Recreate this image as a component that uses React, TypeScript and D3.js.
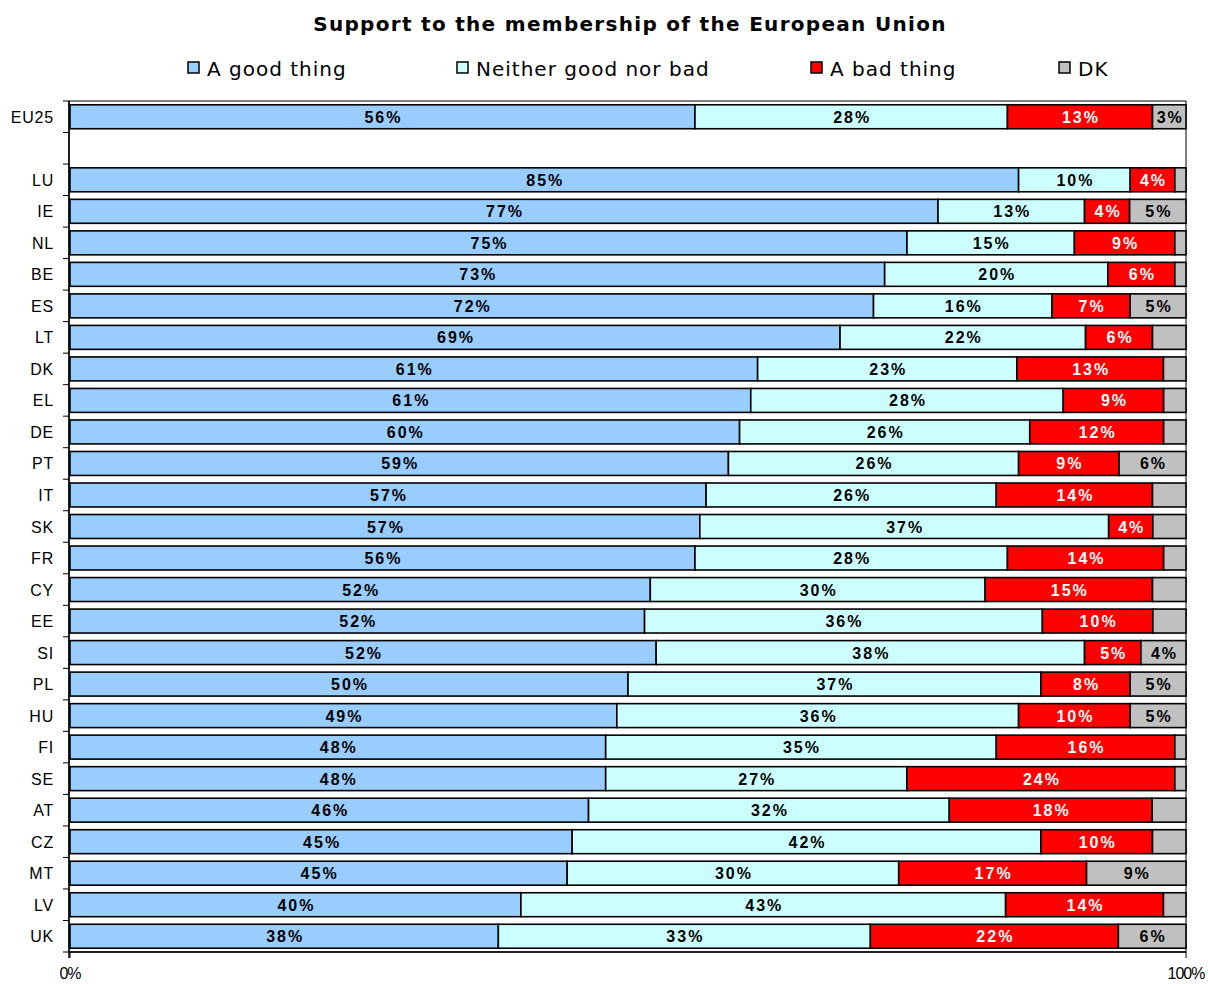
import React from 'react';
import * as d3 from 'd3';

// rows, top to bottom ('' is the empty spacer row)
const countries = ['EU25', '', 'LU', 'IE', 'NL', 'BE', 'ES', 'LT', 'DK', 'EL', 'DE', 'PT', 'IT', 'SK', 'FR', 'CY', 'EE', 'SI', 'PL', 'HU', 'FI', 'SE', 'AT', 'CZ', 'MT', 'LV', 'UK'];
const good = [56, 0, 85, 77, 75, 73, 72, 69, 61, 61, 60, 59, 57, 57, 56, 52, 52, 52, 50, 49, 48, 48, 46, 45, 45, 40, 38];
const neither = [28, 0, 10, 13, 15, 20, 16, 22, 23, 28, 26, 26, 26, 37, 28, 30, 36, 38, 37, 36, 35, 27, 32, 42, 30, 43, 33];
const bad = [13, 0, 4, 4, 9, 6, 7, 6, 13, 9, 12, 9, 14, 4, 14, 15, 10, 5, 8, 10, 16, 24, 18, 10, 17, 14, 22];
const dk = [3, 0, 1, 5, 1, 1, 5, 3, 2, 2, 2, 6, 3, 3, 2, 3, 3, 4, 5, 5, 1, 1, 3, 3, 9, 2, 6];
// DK labels only printed on these rows
const dkShown = ['EU25', 'IE', 'ES', 'PT', 'SI', 'PL', 'HU', 'MT', 'UK'];

const series = ['A good thing', 'Neither good nor bad', 'A bad thing', 'DK'];
const colors = ['#99CCFF', '#CCFFFF', '#FF0000', '#C0C0C0'];
const xTicks = ['0%', '100%'];

const W = 1208, H = 984;
const m = { left: 70, right: 1186, top: 101, bottom: 952 };

export default function App() {
  const rows = countries.map((c, i) => ({
    idx: String(i), country: c,
    [series[0]]: good[i], [series[1]]: neither[i], [series[2]]: bad[i], [series[3]]: dk[i],
  }));
  const stacked = d3.stack<any>().keys(series).offset(d3.stackOffsetExpand)(rows);

  const x = d3.scaleLinear().domain([0, 1]).range([m.left, m.right]);
  const y = d3.scaleBand().domain(rows.map(r => r.idx)).range([m.top, m.bottom]).paddingInner(0.24).paddingOuter(0.12);
  const step = y.step();

  const legendX = [188, 457, 811, 1059];

  return (
    <svg width={W} height={H} style={{ position: 'absolute', left: 0, top: 0, background: '#fff' }}>
      <text x={630} y={31} textAnchor="middle" fontFamily="DejaVu Sans" fontWeight="bold" fontSize={20} letterSpacing={1.3}>
        Support to the membership of the European Union
      </text>
      {series.map((s, i) => (
        <g key={s}>
          <rect x={legendX[i]} y={62} width={11} height={11} fill={colors[i]} stroke="#000" strokeWidth={1.5} />
          <text x={legendX[i] + 19} y={76} fontFamily="DejaVu Sans" fontSize={20} letterSpacing={1}>{s}</text>
        </g>
      ))}

      {/* plot frame */}
      <rect x={m.left - 1} y={m.top} width={m.right - m.left + 1} height={m.bottom - m.top} fill="none" stroke="#000" strokeWidth={1} />

      {stacked.map((layer, si) => (
        <g key={layer.key}>
          {layer.map((d, ri) => {
            if (!countries[ri]) return null;
            const x0 = x(d[0]), x1 = x(d[1]);
            const val = (d.data as any)[layer.key] as number;
            const yy = y(String(ri))!;
            const showLabel = si < 3 || dkShown.includes(countries[ri]);
            return (
              <g key={ri}>
                <rect x={x0} y={yy} width={x1 - x0} height={y.bandwidth()} fill={colors[si]} stroke="#000" strokeWidth={1.6} />
                {showLabel && (
                  <text x={(x0 + x1) / 2 + 1} y={yy + y.bandwidth() / 2 + 6} textAnchor="middle"
                    fontFamily="Liberation Sans" fontWeight="bold" fontSize={16} letterSpacing={2}
                    fill={si === 2 ? '#fff' : '#000'}>{val}%</text>
                )}
              </g>
            );
          })}
        </g>
      ))}

      {/* left axis */}
      <line x1={m.left - 1} x2={m.left - 1} y1={m.top} y2={m.bottom + 6} stroke="#000" strokeWidth={1.5} />
      {d3.range(countries.length + 1).map(i => (
        <line key={i} x1={m.left - 7} x2={m.left - 1} y1={m.top + i * step} y2={m.top + i * step} stroke="#000" strokeWidth={1} />
      ))}
      {countries.map((c, i) => (
        <text key={i} x={54} y={y(String(i))! + y.bandwidth() / 2 + 6} textAnchor="end"
          fontFamily="Liberation Sans" fontSize={16} letterSpacing={0.8}>{c}</text>
      ))}

      {/* bottom axis */}
      <line x1={m.left - 1} x2={m.right} y1={m.bottom} y2={m.bottom} stroke="#000" strokeWidth={1.5} />
      {xTicks.map((t, i) => (
        <g key={t}>
          <line x1={x(i)} x2={x(i)} y1={m.bottom} y2={m.bottom + 6} stroke="#000" strokeWidth={1} />
          <text x={x(i)} y={979} textAnchor="middle" fontFamily="Liberation Sans" fontSize={16} letterSpacing={-1}>{t}</text>
        </g>
      ))}
    </svg>
  );
}
